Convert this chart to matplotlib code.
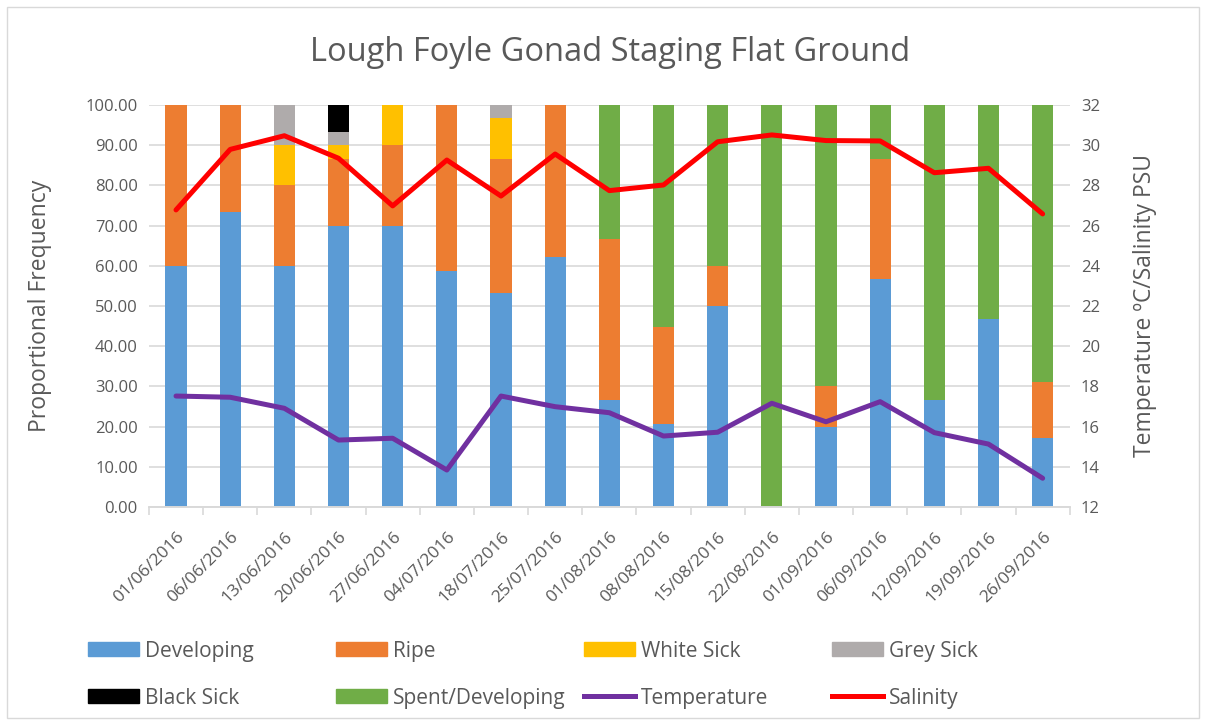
import matplotlib.pyplot as plt
import numpy as np
from matplotlib.patches import Patch
from matplotlib.lines import Line2D

plt.rcParams['font.family'] = ['Open Sans', 'DejaVu Sans']

dates = ["01/06/2016", "06/06/2016", "13/06/2016", "20/06/2016", "27/06/2016",
         "04/07/2016", "18/07/2016", "25/07/2016", "01/08/2016", "08/08/2016",
         "15/08/2016", "22/08/2016", "01/09/2016", "06/09/2016", "12/09/2016",
         "19/09/2016", "26/09/2016"]

# stage proportions (%)
developing = [60.0, 73.33, 60.0, 70.0, 70.0, 58.62, 53.33, 62.07, 26.67, 20.69,
              50.0, 0.0, 20.0, 56.67, 26.67, 46.67, 17.24]
ripe = [40.0, 26.67, 20.0, 16.67, 20.0, 41.38, 33.33, 37.93, 40.0, 24.14,
        10.0, 0.0, 10.0, 30.0, 0.0, 0.0, 13.79]
white_sick = [0, 0, 10.0, 3.33, 10.0, 0, 10.0, 0, 0, 0, 0, 0, 0, 0, 0, 0, 0]
grey_sick = [0, 0, 10.0, 3.33, 0, 0, 3.33, 0, 0, 0, 0, 0, 0, 0, 0, 0, 0]
black_sick = [0, 0, 0, 6.67, 0, 0, 0, 0, 0, 0, 0, 0, 0, 0, 0, 0, 0]
spent = [0, 0, 0, 0, 0, 0, 0, 0, 33.33, 55.17, 40.0, 100.0, 70.0, 13.33,
         73.33, 53.33, 68.97]

temperature = [17.52, 17.46, 16.91, 15.33, 15.42, 13.84, 17.52, 16.99, 16.69,
               15.53, 15.72, 17.16, 16.24, 17.24, 15.70, 15.13, 13.43]
salinity = [26.78, 29.79, 30.47, 29.35, 26.98, 29.26, 27.47, 29.56, 27.74,
            28.02, 30.17, 30.51, 30.23, 30.21, 28.63, 28.85, 26.58]

stages = [("Developing", developing, "#5B9BD5"),
          ("Ripe", ripe, "#ED7D31"),
          ("White Sick", white_sick, "#FFC000"),
          ("Grey Sick", grey_sick, "#AFABAB"),
          ("Black Sick", black_sick, "#000000"),
          ("Spent/Developing", spent, "#70AD47")]

txt = "#595959"
grid = "#D9D9D9"

fig = plt.figure(figsize=(12.06, 7.25), dpi=100)
fig.patches.append(plt.Rectangle((0.0058, 0.0097), 0.9884, 0.9806, transform=fig.transFigure,
                                 fill=False, edgecolor=grid, linewidth=1))
ax = fig.add_axes([0.1235, 0.3007, 0.7635, 0.5545])
ax2 = ax.twinx()

x = np.arange(len(dates))
bottom = np.zeros(len(dates))
for name, vals, col in stages:
    ax.bar(x, vals, width=0.39, bottom=bottom, color=col, label=name, zorder=2)
    bottom += np.array(vals)

ax2.plot(x, temperature, color="#7030A0", linewidth=3.6, solid_capstyle='round',
         solid_joinstyle='round', label="Temperature")
ax2.plot(x, salinity, color="#FF0000", linewidth=3.6, solid_capstyle='round',
         solid_joinstyle='round', label="Salinity")

ax.set_xlim(-0.5, len(dates) - 0.5)
ax.set_ylim(0, 100)
ax.set_yticks(np.arange(0, 101, 10))
ax.set_yticklabels([f"{v:.2f}" for v in np.arange(0, 101, 10)])
ax.yaxis.grid(True, color=grid, linewidth=1.2, zorder=0)
ax.set_axisbelow(True)
ax2.set_ylim(12, 32)
ax2.set_yticks(np.arange(12, 33, 2))

ax.set_xticks(x)
ax.set_xticklabels(dates, rotation=45, ha='right', rotation_mode='anchor')
ax.set_xticks(np.arange(-0.5, len(dates), 1), minor=True)
ax.tick_params(axis='x', which='major', length=0, pad=16, labelsize=12.5, labelcolor=txt)
ax.tick_params(axis='x', which='minor', length=6, color=grid, width=1.2)
ax.tick_params(axis='y', length=0, labelsize=12, labelcolor=txt, pad=8)
ax2.tick_params(axis='y', length=0, labelsize=12, labelcolor=txt, pad=8)

for a in (ax, ax2):
    for s in ("top", "left", "right"):
        a.spines[s].set_visible(False)
    a.spines["bottom"].set_color(grid)
    a.spines["bottom"].set_linewidth(1.2)

ax.set_ylabel("Proportional Frequency", fontsize=16.5, color=txt, labelpad=24)
ax2.set_ylabel("Temperature ºC/Salinity PSU", fontsize=16.5, color=txt, labelpad=24)
fig.text(0.506, 0.928, "Lough Foyle Gonad Staging Flat Ground", fontsize=23.5,
         color=txt, ha='center', va='center')

# legend: 4 columns x 2 rows
handles = [Patch(color=c) for _, _, c in stages]
handles += [Line2D([], [], color="#7030A0", linewidth=3.6),
            Line2D([], [], color="#FF0000", linewidth=3.6)]
labels = [s[0] for s in stages] + ["Temperature", "Salinity"]
cols = [(0, 4), (1, 5), (2, 6), (3, 7)]
col_x = [0.0661, 0.2717, 0.4774, 0.683]
for cx, (i, j) in zip(col_x, cols):
    leg = fig.legend([handles[i], handles[j]], [labels[i], labels[j]],
                     loc='upper left', bbox_to_anchor=(cx, 0.128), frameon=False,
                     fontsize=15, labelcolor=txt, handlelength=2.45, handleheight=0.67,
                     handletextpad=0.3, labelspacing=1.25, borderaxespad=0)

fig.savefig("out.png", dpi=100)
